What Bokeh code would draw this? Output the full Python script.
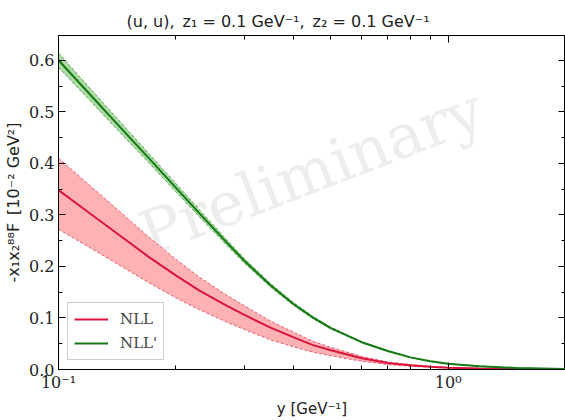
import numpy as np
from bokeh.plotting import figure
from bokeh.models import (LogAxis, LinearAxis, FixedTicker, Range1d, Label,
                          CustomJSTickFormatter, NumeralTickFormatter, Legend, LegendItem)
from bokeh.embed import file_html
from bokeh.resources import INLINE
from bokeh.core.properties import value

# ---- data ----
y_vals = [0.10, 0.12, 0.14, 0.17, 0.20, 0.23, 0.27, 0.30, 0.35, 0.40,
          0.45, 0.50, 0.60, 0.70, 0.80, 0.90, 1.00, 1.20, 1.50, 2.00]

nll_central = [0.348, 0.3036, 0.2662, 0.219, 0.1825, 0.153, 0.1238, 0.106, 0.0812, 0.0628,
               0.0473, 0.0372, 0.0220, 0.0127, 0.0082, 0.0055, 0.0035, 0.0018, 0.0007, 0.0002]
nll_upper = [0.410, 0.358, 0.314, 0.258, 0.214, 0.179, 0.1445, 0.1235, 0.0942, 0.0727,
             0.0547, 0.0430, 0.0254, 0.0146, 0.0094, 0.0062, 0.0040, 0.0021, 0.0008, 0.00025]
nll_lower = [0.272, 0.237, 0.207, 0.169, 0.139, 0.116, 0.092, 0.0775, 0.0575, 0.0443,
             0.0335, 0.0265, 0.0160, 0.0094, 0.0062, 0.0042, 0.0027, 0.0014, 0.0005, 0.00015]

nllp_central = [0.600, 0.535, 0.480, 0.411, 0.353, 0.303, 0.2466, 0.2107, 0.1634, 0.1276,
                0.1007, 0.0802, 0.0530, 0.0358, 0.0235, 0.0160, 0.0110, 0.0065, 0.0030, 0.0010]
nllp_upper = [0.614, 0.547, 0.491, 0.420, 0.361, 0.310, 0.2521, 0.2154, 0.1670, 0.1304,
              0.1029, 0.0819, 0.0541, 0.0365, 0.0240, 0.0163, 0.0112, 0.0066, 0.0031, 0.0010]
nllp_lower = [0.586, 0.523, 0.469, 0.402, 0.345, 0.296, 0.2411, 0.2060, 0.1598, 0.1248,
              0.0985, 0.0785, 0.0519, 0.0351, 0.0230, 0.0157, 0.0108, 0.0064, 0.0029, 0.0010]

series_labels = ["NLL", "NLL'"]

x_major_ticks = [0.1, 1.0]
x_major_labels = ["10\u207b\u00b9", "10\u2070"]
x_minor_ticks = [0.2, 0.3, 0.4, 0.5, 0.6, 0.7, 0.8, 0.9, 2.0]
y_major_ticks = [0.0, 0.1, 0.2, 0.3, 0.4, 0.5, 0.6]
y_minor_ticks = [0.05, 0.15, 0.25, 0.35, 0.45, 0.55, 0.65]

title_text = "(u, u),\u2002z\u2081 = 0.1 GeV\u207b\u00b9,\u2002z\u2082 = 0.1 GeV\u207b\u00b9"
x_label = "y [GeV\u207b\u00b9]"
y_label = "-x\u2081x\u2082\u2078\u2078F\u2002[10\u207b\u00b2 GeV\u00b2]"

RED = "#dc143c"
RED_FILL = "#ffb2b4"
GREEN = "#157a15"
GREEN_FILL = "#acdba6"
SERIF = "DejaVu Serif"
SANS = "DejaVu Sans"

p = figure(width=565, height=420, x_axis_type="log",
           x_range=Range1d(0.1, 2.0), y_range=Range1d(0.0, 0.648),
           output_backend="svg", toolbar_location=None,
           min_border_left=58, min_border_right=0, min_border_top=35,
           min_border_bottom=50)
p.xgrid.visible = False
p.ygrid.visible = False
p.outline_line_color = "black"
p.background_fill_color = "white"
p.border_fill_color = "white"

# watermark
p.add_layout(Label(x=0.445, y=0.385, text="Preliminary", angle=21, angle_units="deg",
                   text_align="center", text_baseline="middle",
                   text_font=SERIF, text_font_size="61px", text_color="#ededed",
                   level="underlay"))

# bands
p.varea(x=y_vals, y1=nll_lower, y2=nll_upper, fill_color=RED_FILL, fill_alpha=1.0)
p.line(y_vals, nll_upper, line_color=RED, line_width=0.8, line_dash="3 2", line_alpha=0.8)
p.line(y_vals, nll_lower, line_color=RED, line_width=0.8, line_dash="3 2", line_alpha=0.8)
p.varea(x=y_vals, y1=nllp_lower, y2=nllp_upper, fill_color=GREEN_FILL, fill_alpha=1.0)
p.line(y_vals, nllp_upper, line_color=GREEN, line_width=0.8, line_dash="3 2", line_alpha=0.8)
p.line(y_vals, nllp_lower, line_color=GREEN, line_width=0.8, line_dash="3 2", line_alpha=0.8)

r1 = p.line(y_vals, nll_central, line_color=RED, line_width=2)
r2 = p.line(y_vals, nllp_central, line_color=GREEN, line_width=2)

legend = Legend(items=[LegendItem(label=series_labels[0], renderers=[r1]),
                       LegendItem(label=series_labels[1], renderers=[r2])],
                location="bottom_left")
legend.label_text_font = SERIF
legend.label_text_font_size = "15px"
legend.glyph_width = 34
legend.label_standoff = 12
legend.spacing = 4
legend.padding = 6
legend.margin = 9
legend.border_line_color = "#cccccc"
legend.border_line_alpha = 1.0
legend.background_fill_alpha = 0.8
p.add_layout(legend)

# ticks / axes
xt = FixedTicker(ticks=x_major_ticks, minor_ticks=x_minor_ticks)
yt = FixedTicker(ticks=y_major_ticks, minor_ticks=y_minor_ticks)
xfmt = CustomJSTickFormatter(args=dict(vals=x_major_ticks, labs=x_major_labels), code="""
for (let i = 0; i < vals.length; i++) {
  if (Math.abs(Math.log10(tick) - Math.log10(vals[i])) < 1e-6) return labs[i];
}
return '';
""")
blank = CustomJSTickFormatter(code="return '';")

def style(ax):
    ax.major_tick_in = 7
    ax.major_tick_out = 0
    ax.minor_tick_in = 4
    ax.minor_tick_out = 0
    ax.major_tick_line_color = "black"
    ax.minor_tick_line_color = "black"
    ax.axis_line_color = "black"
    ax.major_label_text_font = SERIF
    ax.major_label_text_font_size = "16px"
    ax.major_label_text_color = "#222222"
    ax.axis_label_text_font = SANS
    ax.axis_label_text_font_size = "15px"
    ax.axis_label_text_font_style = "normal"
    ax.axis_label_text_color = "#222222"

xa = p.xaxis[0]
xa.ticker = xt
xa.formatter = xfmt
xa.axis_label = x_label
style(xa)
xa.major_label_standoff = 3
xa.axis_label_standoff = 5

ya = p.yaxis[0]
ya.ticker = yt
ya.formatter = NumeralTickFormatter(format="0.0")
ya.axis_label = y_label
style(ya)
ya.axis_label_text_font_size = "16px"
ya.major_label_standoff = 4
ya.axis_label_standoff = 3

top = LogAxis(ticker=xt, formatter=blank)
style(top)
top.major_label_standoff = 0
top.axis_label_standoff = 0
p.add_layout(top, "above")

right = LinearAxis(ticker=yt, formatter=blank)
style(right)
right.major_label_standoff = 0
right.axis_label_standoff = 0
p.add_layout(right, "right")

p.title.text = title_text
p.title.text_font = SANS
p.title.text_font_size = "16px"
p.title.text_font_style = "normal"
p.title.text_color = "#222222"
p.title.align = "left"
p.title.offset = 68

open("out.html", "w").write(file_html(p, INLINE))
